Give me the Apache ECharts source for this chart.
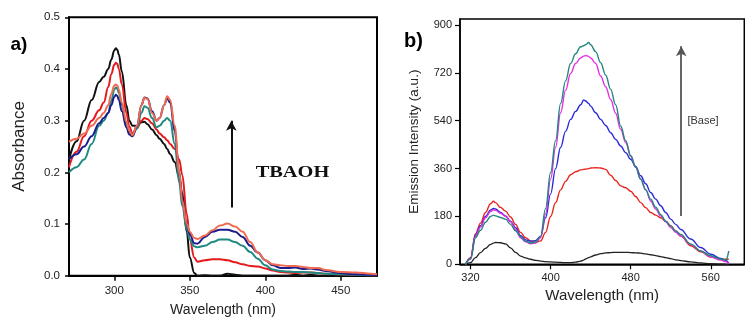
<!DOCTYPE html>
<html><head><meta charset="utf-8">
<script src="https://cdn.jsdelivr.net/npm/echarts@6/dist/echarts.min.js"></script>
<style>html,body{margin:0;padding:0;background:#fff}#c{width:745px;height:324px}</style>
</head><body><div id="c"></div>
<script>
// ---- Panel a) absorbance ----
const wlA = [270,275,280,285,290,293,296,298,300,301,302,303,305,308,310,312,315,318,320,322,325,328,330,333,335,337,340,343,345,348,350,353,355,360,365,370,375,380,385,390,395,400,405,410,415,420,425,430,435,440,450,460,470,474];
const absBlack = [.225,.26,.30,.34,.375,.385,.40,.418,.436,.44,.437,.428,.395,.33,.30,.29,.29,.297,.298,.293,.283,.272,.265,.255,.245,.235,.22,.19,.16,.085,.035,.005,0,.001,0,0,.004,.002,0,0,0,0,0,0,0,.002,0,.002,0,0,0,0,0,0];
const absRed = [.21,.24,.27,.30,.32,.335,.365,.39,.408,.412,.41,.40,.37,.315,.288,.275,.285,.30,.305,.303,.295,.283,.275,.268,.262,.255,.245,.225,.195,.12,.07,.035,.027,.03,.032,.032,.03,.026,.022,.019,.018,.014,.01,.007,.006,.005,.006,.006,.005,.004,.003,.002,.001,.001];
const absSalmon = [.259,.265,.275,.29,.305,.315,.33,.352,.368,.37,.368,.36,.335,.298,.28,.272,.29,.33,.344,.342,.315,.30,.305,.33,.347,.34,.29,.20,.145,.10,.085,.073,.071,.078,.088,.097,.101,.095,.085,.065,.045,.03,.022,.02,.019,.019,.017,.015,.015,.011,.007,.006,.004,.003];
const absNavy = [.225,.235,.25,.27,.295,.305,.315,.33,.346,.35,.348,.34,.318,.287,.273,.27,.29,.33,.345,.343,.318,.30,.305,.33,.343,.335,.28,.20,.15,.10,.08,.063,.062,.075,.085,.089,.089,.085,.075,.058,.045,.03,.02,.015,.015,.016,.013,.014,.012,.009,.005,.003,.002,.001];
const absTeal = [.20,.21,.225,.255,.29,.30,.315,.338,.36,.364,.362,.354,.33,.293,.277,.27,.285,.315,.328,.325,.305,.287,.29,.30,.305,.30,.255,.18,.135,.09,.07,.057,.055,.058,.065,.07,.07,.065,.058,.046,.033,.02,.012,.009,.008,.007,.007,.006,.005,.004,.003,.002,.001,.001];
const ticksAx = [300,350,400,450];
const ticksAy = [0,0.1,0.2,0.3,0.4,0.5];

// ---- Panel b) emission ----
const wlB = [315,320,325,330,335,340,343,345,350,355,360,365,370,375,380,385,390,395,400,405,410,415,420,425,430,433,435,438,440,445,450,455,460,465,470,475,480,485,490,495,500,505,510,515,520,525,530,540,550,560,570,575,578];
const emBlack = [0,6,25,44,60,75,80,82,81,77,62,45,31,24,19,15,12,10,9,8,7,6,6,8,12,16,20,25,28,35,40,43,44,45,45,45,44,43,42,39,36,33,29,25,21,17,14,9,5,2,1,0,0];
const emRed = [0,25,115,155,195,228,237,232,214,200,178,150,120,100,88,82,88,120,180,232,280,312,337,348,355,357,358,360,362,363,362,357,335,315,295,288,275,255,232,213,195,185,175,162,145,125,106,70,47,27,20,19,19];
const emBlue = [0,22,110,145,180,204,210,208,195,182,162,138,108,92,87,89,105,175,265,360,440,500,545,575,600,618,614,605,595,570,545,522,495,470,445,420,395,368,333,303,270,245,220,195,170,150,131,95,63,38,22,15,3];
const emMagenta = [0,20,105,140,175,198,205,203,192,180,160,132,100,85,77,80,100,190,320,440,570,655,718,755,776,783,785,782,776,755,708,668,620,568,508,458,408,365,320,280,238,208,182,160,138,120,106,75,50,27,16,10,2];
const emTeal = [0,20,100,128,158,180,185,182,176,170,150,126,104,87,80,84,105,210,345,465,605,690,755,792,818,822,826,834,826,800,758,712,658,600,520,465,408,365,320,280,245,215,187,162,144,125,112,76,50,32,20,16,50];
const ticksBx = [320,400,480,560];
const ticksBy = [0,180,360,540,720,900];

const zip = (xs, ys) => xs.map((x, i) => [x, ys[i]]);
const mk = (name, xs, ys, color, idx, w, extra) => Object.assign({
  name, type: 'line', xAxisIndex: idx, yAxisIndex: idx, data: zip(xs, ys),
  showSymbol: false, symbol: 'none', smooth: 0.4, smoothMonotone: 'x', silent: true,
  lineStyle: { color, width: w }, itemStyle: { color }, z: 3
}, extra || {});

const arrowLine = (coords, color, w) => ({
  silent: true, symbol: ['none', 'arrow'], symbolSize: [8, 10],
  label: { show: false }, emphasis: { disabled: true },
  lineStyle: { color, width: w, type: 'solid' },
  data: [[{ coord: coords[0] }, { coord: coords[1] }]]
});

const font = 'Liberation Sans, Arial, sans-serif';
const chart = echarts.init(document.getElementById('c'));
chart.setOption({
  animation: false,
  backgroundColor: '#ffffff',
  grid: [
    { left: 69, top: 17.3, width: 308, height: 258.4, show: true, borderColor: '#000', borderWidth: 2, backgroundColor: 'transparent' },
    { left: 460, top: 19, width: 284.3, height: 245.3, show: true, borderColor: '#000', borderWidth: 1.5, backgroundColor: 'transparent' }
  ],
  xAxis: [
    { type: 'value', gridIndex: 0, min: 270, max: 474,
      axisLine: { show: true, onZero: false, lineStyle: { color: '#000', width: 2 } },
      axisTick: { show: true, length: 5, customValues: ticksAx, lineStyle: { color: '#000', width: 1.5 } },
      axisLabel: { customValues: ticksAx, margin: 9, fontSize: 11.5, color: '#222', fontFamily: font },
      splitLine: { show: false },
      name: 'Wavelength (nm)', nameLocation: 'middle', nameGap: 27,
      nameTextStyle: { fontSize: 14, color: '#222', fontFamily: font } },
    { type: 'value', gridIndex: 1, min: 309.5, max: 593.5,
      axisLine: { show: true, onZero: false, lineStyle: { color: '#000', width: 1.5 } },
      axisTick: { show: true, length: 5, customValues: ticksBx, lineStyle: { color: '#000', width: 1.2 } },
      axisLabel: { customValues: ticksBx, margin: 8, fontSize: 11, color: '#222', fontFamily: font },
      splitLine: { show: false },
      name: 'Wavelength (nm)', nameLocation: 'middle', nameGap: 20,
      nameTextStyle: { fontSize: 15, color: '#222', fontFamily: font } }
  ],
  yAxis: [
    { type: 'value', gridIndex: 0, min: 0, max: 0.5,
      axisLine: { show: true, lineStyle: { color: '#000', width: 2 } },
      axisTick: { show: true, length: 4, customValues: ticksAy, lineStyle: { color: '#000', width: 1.5 } },
      axisLabel: { customValues: ticksAy, margin: 9, fontSize: 11.5, color: '#222', fontFamily: font,
        formatter: v => v.toFixed(1) },
      splitLine: { show: false },
      name: 'Absorbance', nameLocation: 'middle', nameGap: 41, nameRotate: 90,
      nameTextStyle: { fontSize: 17, color: '#222', fontFamily: font } },
    { type: 'value', gridIndex: 1, min: 0, max: 922.6,
      axisLine: { show: true, lineStyle: { color: '#000', width: 1.5 } },
      axisTick: { show: true, length: 5, customValues: ticksBy, lineStyle: { color: '#000', width: 1.2 } },
      axisLabel: { customValues: ticksBy, margin: 8, fontSize: 11, color: '#222', fontFamily: font },
      splitLine: { show: false },
      name: 'Emission Intensity (a.u.)', nameLocation: 'middle', nameGap: 38.5, nameRotate: 90,
      nameTextStyle: { fontSize: 13.5, color: '#222', fontFamily: font } }
  ],
  series: [
    mk('black a', wlA, absBlack, '#111111', 0, 2),
    mk('red a', wlA, absRed, '#e41a1c', 0, 2),
    mk('teal a', wlA, absTeal, '#1f8a80', 0, 2),
    mk('navy a', wlA, absNavy, '#1c1c8c', 0, 2),
    mk('salmon a', wlA, absSalmon, '#f06a52', 0, 2, {
      markLine: arrowLine([[377.5, 0.132], [377.5, 0.30]], '#111', 2) }),
    mk('black b', wlB, emBlack, '#222222', 1, 1.3),
    mk('red b', wlB, emRed, '#e8261f', 1, 1.4),
    mk('blue b', wlB, emBlue, '#2b2bd9', 1, 1.4),
    mk('magenta b', wlB, emMagenta, '#e52ee5', 1, 1.4),
    mk('teal b', wlB, emTeal, '#24877f', 1, 1.4, {
      markLine: arrowLine([[530.5, 182], [530.5, 820]], '#555', 1.8) })
  ],
  graphic: [
    { type: 'text', x: 19, y: 45, style: { text: 'a)', font: 'bold 19px ' + font, fill: '#000', align: 'center', verticalAlign: 'middle' } },
    { type: 'text', x: 413.5, y: 41, style: { text: 'b)', font: 'bold 20px ' + font, fill: '#000', align: 'center', verticalAlign: 'middle' } },
    { type: 'text', x: 292.5, y: 172.5, scaleX: 1.2, style: { text: 'TBAOH', font: 'bold 17px Liberation Serif, Times New Roman, serif', fill: '#111', align: 'center', verticalAlign: 'middle' } },
    { type: 'text', x: 703, y: 121, style: { text: '[Base]', font: '11px ' + font, fill: '#333', align: 'center', verticalAlign: 'middle' } }
  ]
});
</script>
</body></html>
